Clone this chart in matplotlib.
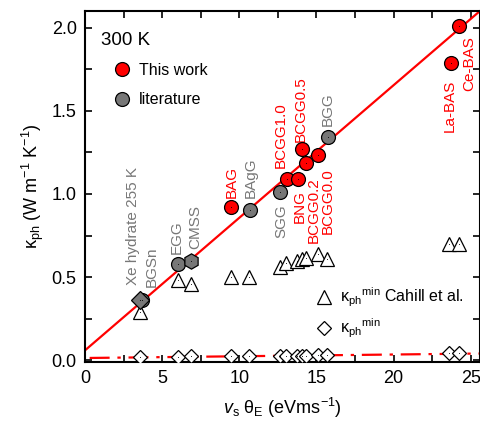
import numpy as np
import matplotlib
matplotlib.use('Agg')
import matplotlib.pyplot as plt
from matplotlib.lines import Line2D

plt.rcParams['font.family'] = ['Liberation Sans', 'DejaVu Sans']
plt.rcParams['mathtext.fontset'] = 'custom'
plt.rcParams['mathtext.rm'] = 'Liberation Sans'
plt.rcParams['mathtext.it'] = 'Liberation Sans:italic'

ROJO = '#ff0000'
GRIS = '#777777'

# Este trabajo (circulos rojos)
nombres_trabajo = ['BAG', 'BCGG1.0', 'BNG', 'BCGG0.5', 'BCGG0.2', 'BCGG0.0', 'La-BAS', 'Ce-BAS']
x_trabajo = [9.49, 13.06, 13.78, 14.04, 14.32, 15.12, 23.70, 24.26]
k_trabajo = [0.923, 1.093, 1.091, 1.27, 1.184, 1.234, 1.79, 2.012]

# Literatura (gris)
nombres_lit = ['BGSn', 'EGG', 'BAgG', 'SGG', 'BGG']
x_lit = [3.69, 6.01, 10.68, 12.63, 15.73]
k_lit = [0.361, 0.579, 0.903, 1.01, 1.343]
x_xe, k_xe = [3.54], [0.365]        # Xe hydrate 255 K (rombo)
x_cmss, k_cmss = [6.84], [0.599]    # CMSS (hexagono)

# kappa minimo de Cahill (triangulos) y kappa minimo (rombos)
x_min = [3.54, 6.01, 6.84, 9.47, 10.63, 12.64, 13.05, 13.75, 14.07, 14.32, 15.08, 15.71, 23.6, 24.26]
k_cahill = [0.29, 0.48, 0.456, 0.50, 0.502, 0.56, 0.586, 0.60, 0.608, 0.617, 0.639, 0.607, 0.70, 0.70]
k_min = [0.02, 0.02, 0.028, 0.024, 0.026, 0.026, 0.026, 0.028, 0.028, 0.028, 0.03, 0.03, 0.045, 0.045]

# ajustes lineales
ajuste_ord, ajuste_pend = 0.06, 0.0797
ajuste_min_ord, ajuste_min_pend = 0.014, 0.00105

# etiquetas verticales: texto, color, x, y (inicio del texto)
etiquetas = [
    ('Xe hydrate 255 K', GRIS, 3.13, 0.452),
    ('BGSn', GRIS, 4.34, 0.44),
    ('EGG', GRIS, 5.97, 0.639),
    ('CMSS', GRIS, 7.16, 0.668),
    ('BAG', ROJO, 9.49, 0.976),
    ('BAgG', GRIS, 10.74, 0.976),
    ('SGG', GRIS, 12.7, 0.738),
    ('BCGG1.0', ROJO, 12.7, 1.155),
    ('BNG', ROJO, 13.93, 0.827),
    ('BCGG0.2', ROJO, 14.8, 0.708),
    ('BCGG0.0', ROJO, 15.72, 0.758),
    ('BCGG0.5', ROJO, 14.0, 1.315),
    ('BGG', GRIS, 15.74, 1.407),
    ('La-BAS', ROJO, 23.65, 1.375),
    ('Ce-BAS', ROJO, 24.93, 1.619),
]

fig = plt.figure(figsize=(4.81, 4.22), dpi=100)
ax = fig.add_axes([85 / 481, 60 / 422, 395 / 481, 351 / 422])

xx = np.linspace(0, 25.6, 50)
ax.plot(xx, ajuste_ord + ajuste_pend * xx, color=ROJO, lw=1.6, zorder=2)
xm = np.linspace(0.3, 25.6, 50)
ax.plot(xm, ajuste_min_ord + ajuste_min_pend * xm, color=ROJO, lw=1.6,
        ls=(0, (9, 3.5, 1.5, 3.5)), zorder=2)

ms = 10
ax.plot(x_min, k_cahill, ls='none', marker='^', ms=ms, mfc='white', mec='black', mew=0.9, zorder=3)
ax.plot(x_min, k_min, ls='none', marker='D', ms=7, mfc='white', mec='black', mew=0.9, zorder=3)
ax.plot(x_lit, k_lit, ls='none', marker='o', ms=ms, mfc=GRIS, mec='black', mew=0.9, zorder=4)
ax.plot(x_xe, k_xe, ls='none', marker='D', ms=9, mfc=GRIS, mec='black', mew=0.9, zorder=5)
ax.plot(x_cmss, k_cmss, ls='none', marker='h', ms=11, mfc=GRIS, mec='black', mew=0.9, zorder=4)
ax.plot(x_trabajo, k_trabajo, ls='none', marker='o', ms=ms, mfc=ROJO, mec='black', mew=0.9, zorder=4)

# punto negro central en cada marcador
todos_x = x_min + x_min + x_lit + x_xe + x_cmss + x_trabajo
todos_k = k_cahill + k_min + k_lit + k_xe + k_cmss + k_trabajo
ax.plot(todos_x, todos_k, ls='none', marker='o', ms=0.6, mew=0, color='black', zorder=6)

for texto, color, xt, yt in etiquetas:
    ax.text(xt, yt, texto, color=color, rotation=90, ha='center', va='bottom', fontsize=11)

ax.text(0.04, 0.917, '300 K', transform=ax.transAxes, fontsize=13.5, va='center', ha='left')

h1 = [Line2D([], [], ls='none', marker='o', ms=ms, mfc=ROJO, mec='black', mew=0.9),
      Line2D([], [], ls='none', marker='o', ms=ms, mfc=GRIS, mec='black', mew=0.9)]
leg1 = ax.legend(h1, ['This work', 'literature'], loc='center left', bbox_to_anchor=(0.073, 0.789),
                 frameon=False, fontsize=11.5, handlelength=1.0, handletextpad=0.55,
                 labelspacing=0.9, borderpad=0, borderaxespad=0)
ax.add_artist(leg1)

h2 = [Line2D([], [], ls='none', marker='^', ms=ms, mfc='white', mec='black', mew=0.9),
      Line2D([], [], ls='none', marker='D', ms=7, mfc='white', mec='black', mew=0.9)]
ax.legend(h2, [r'κ$_{\rm ph}$$^{\rm min}$ Cahill et al.', r'κ$_{\rm ph}$$^{\rm min}$'],
          loc='center left', bbox_to_anchor=(0.584, 0.14), frameon=False, fontsize=11.5,
          handlelength=1.0, handletextpad=0.55, labelspacing=0.5, borderpad=0, borderaxespad=0)

ax.set_xlim(0, 25.6)
ax.set_ylim(-0.01, 2.1)
ax.set_xticks([0, 5, 10, 15, 20, 25])
ax.set_xticks(np.arange(2.5, 25.6, 5), minor=True)
ax.set_yticks([0, 0.5, 1.0, 1.5, 2.0])
ax.set_yticklabels(['0.0', '0.5', '1.0', '1.5', '2.0'])
ax.set_yticks([0.25, 0.75, 1.25, 1.75], minor=True)
ax.tick_params(which='both', direction='in', top=True, right=True, length=5, width=1.2,
               labelsize=13, pad=6)
for lado in ax.spines.values():
    lado.set_linewidth(1.5)

ax.set_xlabel(r'$v_{\rm s}$ θ$_{\rm E}$ (eVms$^{-1}$)', fontsize=13, labelpad=6)
ax.set_ylabel(r'κ$_{\rm ph}$ (W m$^{-1}$ K$^{-1}$)', fontsize=13, labelpad=4)

plt.savefig('out.png', dpi=100)
